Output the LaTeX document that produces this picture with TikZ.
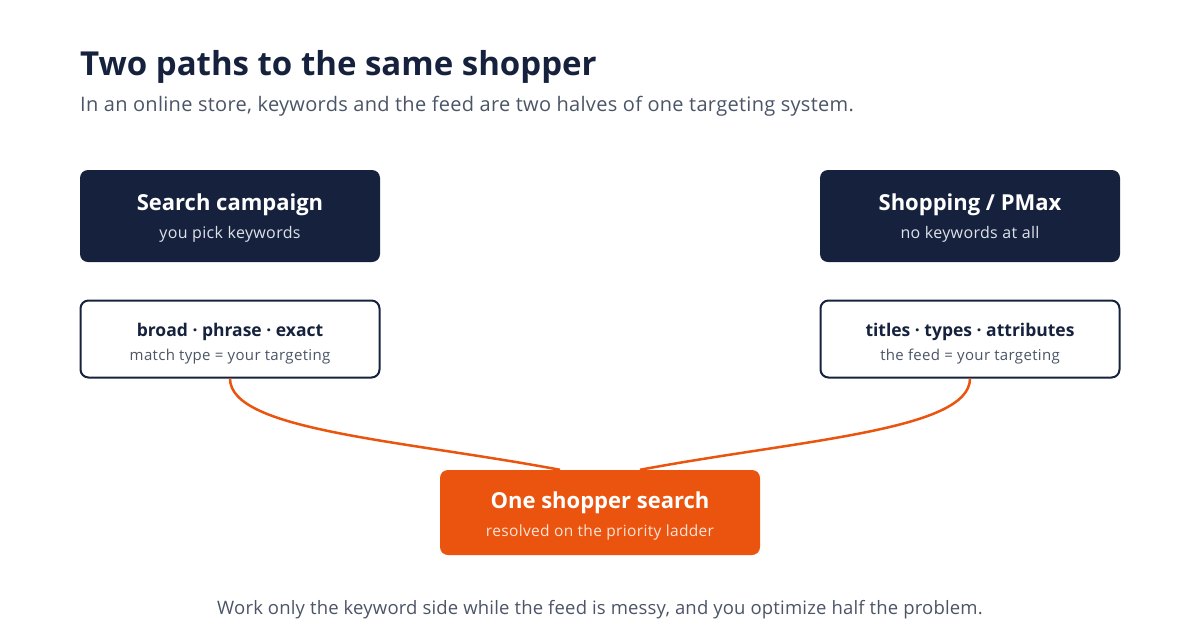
\documentclass[tikz,border=0pt]{standalone}
\usepackage{fontspec}
\setmainfont{Open Sans}
\newfontfamily\regA[LetterSpace=1.5]{Open Sans}
\newfontfamily\regB[LetterSpace=2.2]{Open Sans}
\newfontfamily\regC[LetterSpace=1.0]{Open Sans}
\usetikzlibrary{calc}
\definecolor{navy}{HTML}{16223D}
\definecolor{orng}{HTML}{EA540F}
\definecolor{gry}{HTML}{4B5567}
\definecolor{lgry}{HTML}{DDE2EA}
\definecolor{peach}{HTML}{FCE3D6}
\begin{document}
\begin{tikzpicture}[x=1pt,y=-1pt,
  darkbox/.style={draw=none,fill=navy,rounded corners=8pt,minimum width=300pt,minimum height=92pt,inner sep=0pt},
  linebox/.style={draw=navy,line width=2pt,fill=white,rounded corners=8pt,minimum width=299pt,minimum height=77pt,inner sep=0pt},
  hotbox/.style={draw=none,fill=orng,rounded corners=8pt,minimum width=320pt,minimum height=85pt,inner sep=0pt},
  link/.style={draw=orng,line width=2.5pt},
  txt/.style={inner sep=0pt,anchor=base},
  bigt/.style={txt,font=\fontsize{22}{26}\selectfont\bfseries},
  midt/.style={txt,font=\fontsize{17.5}{21}\selectfont\bfseries},
  subd/.style={txt,font=\regB\fontsize{16}{19}\selectfont},
  subl/.style={txt,font=\regB\fontsize{15}{18}\selectfont}]
\useasboundingbox[fill=white] (0,0) rectangle (1200,630);
\node[txt,anchor=base west,text=navy,font=\fontsize{33}{38}\selectfont\bfseries] (title) at (80,75) {Two paths to the same shopper};
\node[txt,anchor=base west,text=gry,font=\regA\fontsize{20}{24}\selectfont] (sub) at (80,111) {In an online store, keywords and the feed are two halves of one targeting system.};
% boxes
\node[darkbox] (sc) at (230,216) {};
\node[darkbox] (sp) at (970,216) {};
\node[linebox] (lb) at (230,339) {};
\node[linebox] (rb) at (970,339) {};
\node[hotbox] (ob) at (600,512.5) {};
% connectors
\draw[link] (lb.south) .. controls ($(lb.south)+(0,52)$) and ($(ob.north)+(-200,-30)$) .. ($(ob.north)+(-40,0)$);
\draw[link] (rb.south) .. controls ($(rb.south)+(0,52)$) and ($(ob.north)+(200,-30)$) .. ($(ob.north)+(40,0)$);
% texts
\node[bigt,text=white] (sct) at (230,210) {Search campaign};
\node[subd,text=lgry] (scs) at (230,238) {you pick keywords};
\node[bigt,text=white] (spt) at (970,210) {Shopping / PMax};
\node[subd,text=lgry] (sps) at (970,238) {no keywords at all};
\node[midt,text=navy] (lbt) at (230,336) {broad · phrase · exact};
\node[subl,text=gry] (lbs) at (230,360) {match type = your targeting};
\node[midt,text=navy] (rbt) at (970,336) {titles · types · attributes};
\node[subl,text=gry] (rbs) at (970,360) {the feed = your targeting};
\node[bigt,text=white] (obt) at (600,508) {One shopper search};
\node[txt,font=\regB\fontsize{15.5}{18}\selectfont,text=peach] (obs) at (600,536) {resolved on the priority ladder};
\node[txt,text=gry,font=\regC\fontsize{18.5}{22}\selectfont] (foot) at (600,614) {Work only the keyword side while the feed is messy, and you optimize half the problem.};
\end{tikzpicture}
\end{document}
